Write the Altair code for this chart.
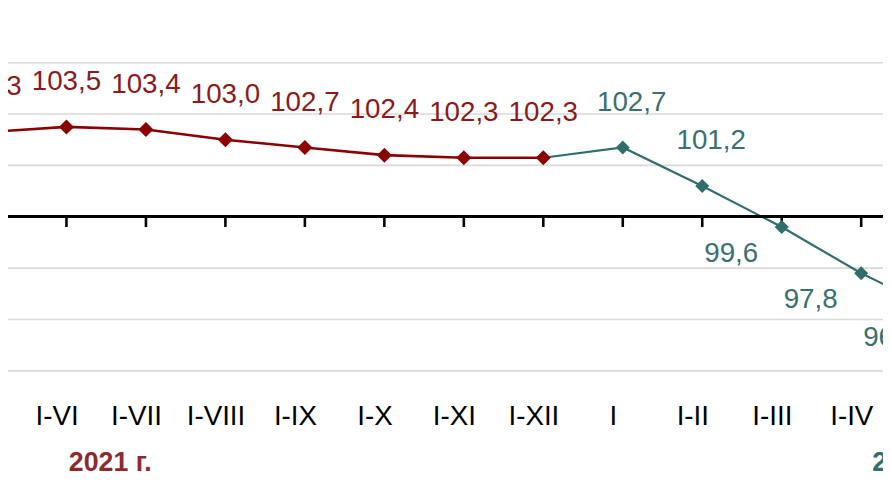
import json
import altair as alt
import pandas as pd

# ---- data ----
categories = ["I-V", "I-VI", "I-VII", "I-VIII", "I-IX", "I-X", "I-XI", "I-XII",
              "I", "I-II", "I-III", "I-IV", "I-V"]
years = [2021, 2021, 2021, 2021, 2021, 2021, 2021, 2021,
         2022, 2022, 2022, 2022, 2022]
values = [103.3, 103.5, 103.4, 103.0, 102.7, 102.4, 102.3, 102.3,
          102.7, 101.2, 99.6, 97.8, 96.3]
year_labels = ["2021 г.", "2022 г."]
year_values = [2021, 2022]
year_centers = [1.55, 11.66]          # centre of each year group on the category index
grid_values = [94, 96, 98, 102, 104, 106]
base_value = 100

RED = "#8B0000"
RED_TXT = "#8B1A1A"
YEAR_RED = "#8E2A2E"
TEAL = "#2F6E6C"
TEAL_TXT = "#3B7071"
FONT = "Liberation Sans"

n = len(categories)
df = pd.DataFrame({
    "idx": list(range(n)),
    "cat": categories,
    "year": years,
    "value": values,
    "label": [f"{v:.1f}".replace(".", ",") for v in values],
})

last_2021 = max(i for i in range(n) if years[i] == 2021)
red_line = df[df["year"] == 2021]
teal_line = df[df["idx"] >= last_2021]

grid_df = pd.DataFrame({"g": grid_values})
year_df = pd.DataFrame({"year": year_values, "text": year_labels, "pos": year_centers,
                        "yv": [90.4, 90.4]})

xscale = alt.Scale(domain=[0.26434, 11.2743], nice=False, zero=False)
yscale = alt.Scale(domain=[min(grid_values), max(grid_values)], nice=False, zero=False)

base = alt.Chart(df)

month_axis = alt.Axis(
    values=[i for i in range(1, n - 1)],
    labelExpr=f"{json.dumps(categories, ensure_ascii=False)}[datum.value]",
    orient="bottom", domain=False, ticks=False, tickSize=0, grid=False,
    labelPadding=32, labelFontSize=28, labelFont=FONT, labelColor="#000000",
    labelOffset=-10, labelOverlap=False, labelFlush=False, title=None,
)

grid = alt.Chart(grid_df).mark_rule(color="#D9D9D9", strokeWidth=1.6).encode(
    y=alt.Y("g:Q", scale=yscale, axis=None),
)

red = alt.Chart(red_line).mark_line(color=RED, strokeWidth=2.6, clip=True).encode(
    x=alt.X("idx:Q", scale=xscale, axis=month_axis),
    y=alt.Y("value:Q", scale=yscale, axis=None),
)
teal = alt.Chart(teal_line).mark_line(color=TEAL, strokeWidth=2.2, clip=True).encode(
    x=alt.X("idx:Q", scale=xscale, axis=None),
    y=alt.Y("value:Q", scale=yscale, axis=None),
)

zero_line = base.mark_rule(color="#000000", strokeWidth=2.6).encode(
    y=alt.Y(datum=base_value, type="quantitative", scale=yscale, axis=None),
)
ticks = base.mark_rule(color="#000000", strokeWidth=2.6, clip=True).encode(
    x=alt.X("idx:Q", scale=xscale, axis=None),
    y=alt.Y(datum=base_value, type="quantitative", scale=yscale, axis=None),
    y2=alt.Y2(datum=base_value - 0.4),
)

pts_red = base.transform_filter("datum.year == 2021").mark_point(
    shape="diamond", filled=True, size=230, color=RED, opacity=1, clip=True
).encode(
    x=alt.X("idx:Q", scale=xscale, axis=None),
    y=alt.Y("value:Q", scale=yscale, axis=None),
)
pts_teal = base.transform_filter("datum.year == 2022").mark_point(
    shape="diamond", filled=True, size=200, color=TEAL, opacity=1, clip=True
).encode(
    x=alt.X("idx:Q", scale=xscale, axis=None),
    y=alt.Y("value:Q", scale=yscale, axis=None),
)

txt_kw = dict(font=FONT, fontSize=28, baseline="middle", align="center", clip=True)
lab_red = base.transform_filter("datum.year == 2021").mark_text(
    color=RED_TXT, dy=-45, **txt_kw
).encode(
    x=alt.X("idx:Q", scale=xscale, axis=None),
    y=alt.Y("value:Q", scale=yscale, axis=None),
    text="label:N",
)
lab_teal_up = base.transform_filter("datum.year == 2022 && datum.value >= 100").mark_text(
    color=TEAL_TXT, dy=-45, dx=9, **txt_kw
).encode(
    x=alt.X("idx:Q", scale=xscale, axis=None),
    y=alt.Y("value:Q", scale=yscale, axis=None),
    text="label:N",
)
lab_teal_down = base.transform_filter("datum.year == 2022 && datum.value < 100").mark_text(
    color=TEAL_TXT, dy=27, dx=-51, **txt_kw
).encode(
    x=alt.X("idx:Q", scale=xscale, axis=None),
    y=alt.Y("value:Q", scale=yscale, axis=None),
    text="label:N",
)

year_txt = alt.Chart(year_df).mark_text(
    font=FONT, fontSize=27, fontWeight="bold", baseline="middle", align="center"
).encode(
    x=alt.X("pos:Q", scale=xscale, axis=None),
    y=alt.Y("yv:Q", scale=yscale, axis=None),
    text="text:N",
    color=alt.Color("year:N", scale=alt.Scale(domain=year_values, range=[YEAR_RED, TEAL]),
                    legend=None),
)

chart = alt.layer(
    grid, red, teal, zero_line, ticks, pts_red, pts_teal,
    lab_red, lab_teal_up, lab_teal_down, year_txt
).resolve_axis(x="independent").properties(
    width=883, height=311,
    padding={"left": 0, "top": 53, "right": 0, "bottom": 114},
    autosize=alt.AutoSizeParams(type="none"),
    background="#FFFFFF",
).configure_view(strokeWidth=0)

chart.save("out.html", embed_options={"renderer": "svg", "actions": False})
